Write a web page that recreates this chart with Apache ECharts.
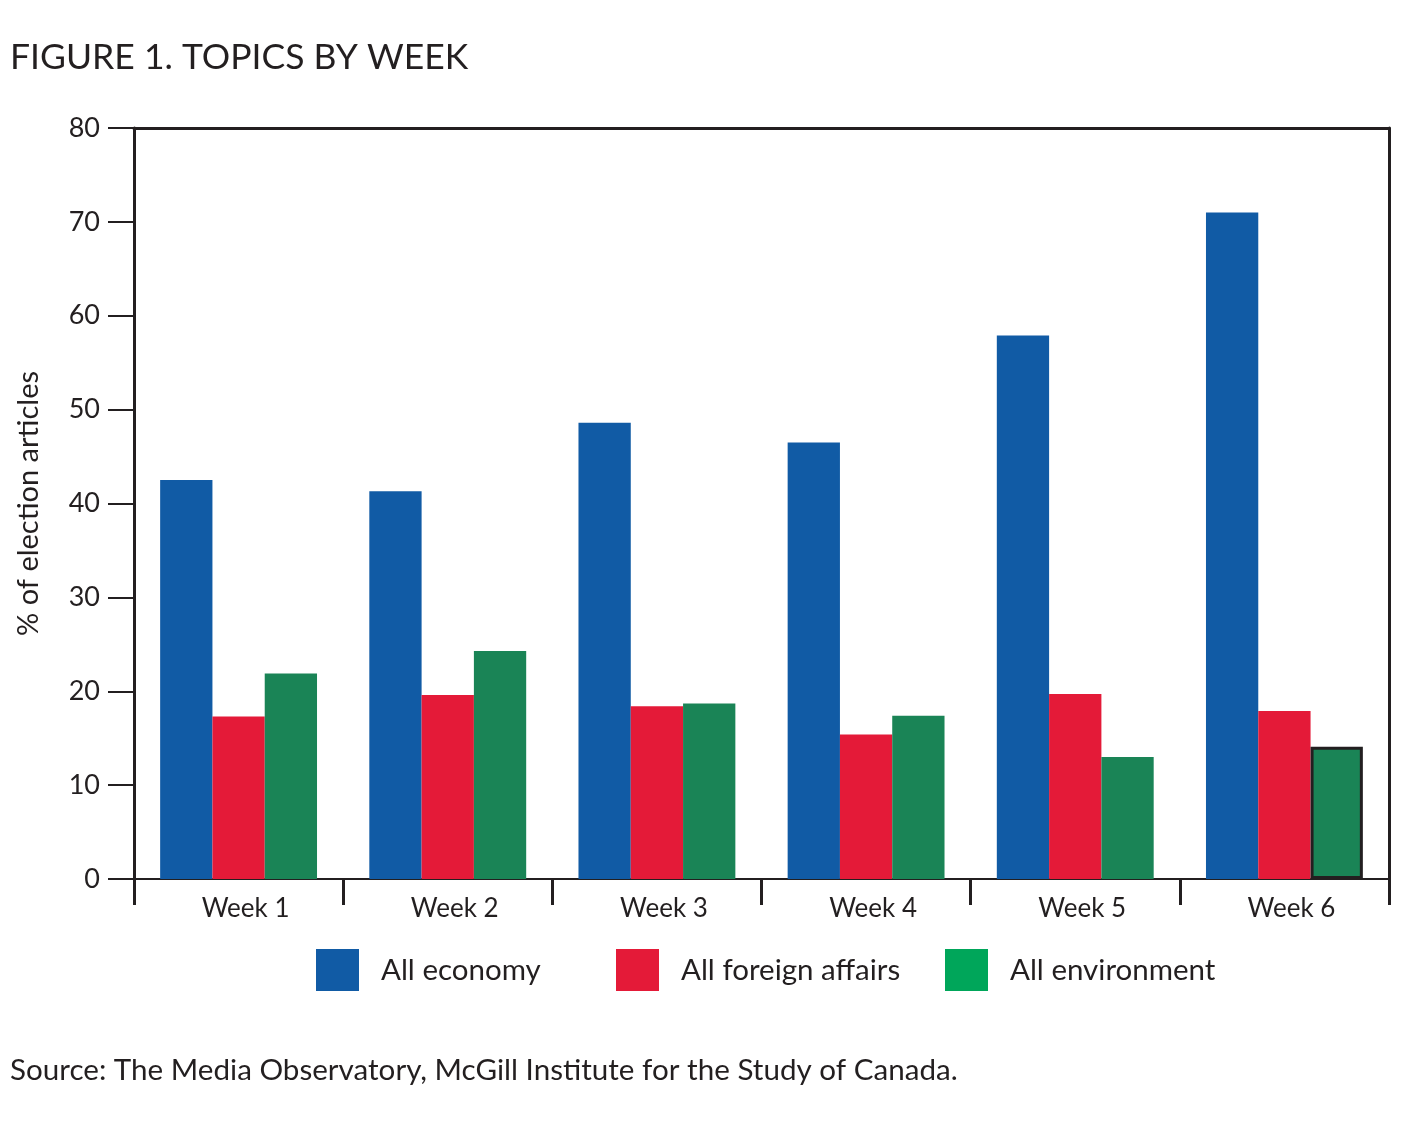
<!DOCTYPE html>
<html>
<head>
<meta charset="utf-8">
<script src="https://cdn.jsdelivr.net/npm/echarts@6/dist/echarts.min.js"></script>
<style>html,body{margin:0;padding:0;background:#fff}#c{width:1425px;height:1122px}</style>
</head>
<body>
<div id="c"></div>
<script>
const categories = ['Week 1', 'Week 2', 'Week 3', 'Week 4', 'Week 5', 'Week 6'];
const economy = [42.5, 41.3, 48.6, 46.5, 57.9, 71.0];
const foreignAffairs = [17.3, 19.6, 18.4, 15.4, 19.7, 17.9];
const environment = [21.9, 24.3, 18.7, 17.4, 13.0, 14.1];
const yTicks = [0, 10, 20, 30, 40, 50, 60, 70, 80];

const ink = '#231f20';
const font = 'Lato';
const chart = echarts.init(document.getElementById('c'));
const envData = environment.map((v, i) => i === 5 ? { value: v, itemStyle: { borderColor: ink, borderWidth: 3 } } : v);

chart.setOption({
  animation: false,
  textStyle: { fontFamily: font, color: ink },
  title: [
    { text: 'FIGURE 1. TOPICS BY WEEK', left: 5, top: 35, textStyle: { fontFamily: font, fontSize: 35.5, fontWeight: 'normal', color: ink } },
    { text: 'Source: The Media Observatory, McGill Institute for the Study of Canada.', left: 5, top: 1050, textStyle: { fontFamily: font, fontSize: 29.6, fontWeight: 'normal', color: ink } }
  ],
  legend: [
    { data: [{ name: 'All economy', itemStyle: { color: '#115BA5' } }], left: 316, top: 949 },
    { data: [{ name: 'All foreign affairs', itemStyle: { color: '#E41A38' } }], left: 616, top: 949 },
    { data: [{ name: 'All environment', itemStyle: { color: '#00A65A' } }], left: 945, top: 949 }
  ].map(l => Object.assign(l, {
    itemWidth: 43, itemHeight: 42, icon: 'rect', padding: 0,
    textStyle: { fontFamily: font, fontSize: 29.5, color: ink, padding: [0, 0, 0, 17] }
  })),
  grid: { left: 134, right: 36, top: 128, bottom: 243, containLabel: false },
  xAxis: [
    {
      type: 'category', data: categories, position: 'bottom',
      axisLine: { lineStyle: { color: ink, width: 2 } },
      axisTick: { show: true, length: 26, lineStyle: { color: ink, width: 3 } },
      axisLabel: { fontFamily: font, fontSize: 26, color: ink, margin: 17, padding: [0, 0, 0, 14] }
    },
    {
      type: 'category', data: categories, position: 'top',
      axisLine: { show: true, onZero: false, lineStyle: { color: ink, width: 3 } },
      axisTick: { show: false }, axisLabel: { show: false }
    }
  ],
  yAxis: [
    {
      type: 'value', min: yTicks[0], max: yTicks[yTicks.length - 1], interval: 10,
      name: '% of election articles', nameLocation: 'middle', nameGap: 91, nameRotate: 90,
      nameTextStyle: { fontFamily: font, fontSize: 29, color: ink },
      axisLine: { show: true, lineStyle: { color: ink, width: 3 } },
      axisTick: { show: true, length: 26, lineStyle: { color: ink, width: 2 } },
      axisLabel: { fontFamily: font, fontSize: 27, color: ink, margin: 34 },
      splitLine: { show: false }
    },
    {
      type: 'value', min: 0, max: 80, interval: 10, position: 'right',
      axisLine: { show: true, onZero: false, lineStyle: { color: ink, width: 3 } },
      axisTick: { show: false }, axisLabel: { show: false }, splitLine: { show: false }
    }
  ],
  series: [
    { name: 'All economy', type: 'bar', data: economy, itemStyle: { color: '#115BA5' }, barGap: '0%', barCategoryGap: '25%' },
    { name: 'All foreign affairs', type: 'bar', data: foreignAffairs, itemStyle: { color: '#E41A38' }, barGap: '0%', barCategoryGap: '25%' },
    { name: 'All environment', type: 'bar', data: envData, itemStyle: { color: '#1A8456' }, barGap: '0%', barCategoryGap: '25%' }
  ]
});
</script>
</body>
</html>
